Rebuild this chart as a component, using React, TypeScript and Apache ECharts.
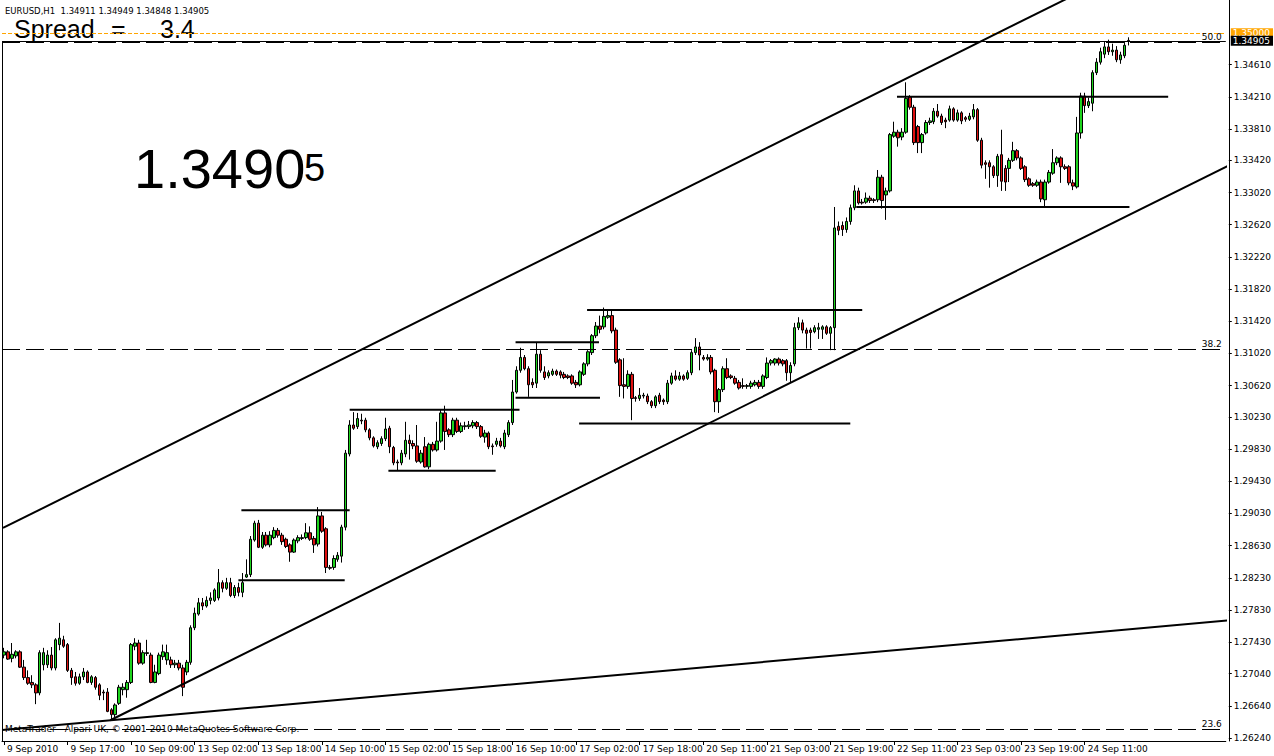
import React, { useEffect, useRef } from "react";
import * as echarts from "echarts";

const FONT_UI = "'DejaVu Sans', sans-serif";
const FONT_BIG = "'Liberation Sans', Arial, sans-serif";

// trading days: [label, first hour, last hour]
const days: [string, number, number][] = [
  ["9 Sep", 1, 23], ["10 Sep", 0, 22], ["13 Sep", 0, 23], ["14 Sep", 0, 23],
  ["15 Sep", 0, 23], ["16 Sep", 0, 23], ["17 Sep", 0, 22], ["20 Sep", 0, 23],
  ["21 Sep", 0, 23], ["22 Sep", 0, 23], ["23 Sep", 0, 23], ["24 Sep", 0, 22],
  ["27 Sep", 0, 23],
];

const xTickLabels = [
  "9 Sep 2010", "9 Sep 17:00", "10 Sep 09:00", "13 Sep 02:00", "13 Sep 18:00",
  "14 Sep 10:00", "15 Sep 02:00", "15 Sep 18:00", "16 Sep 10:00", "17 Sep 02:00",
  "17 Sep 18:00", "20 Sep 11:00", "21 Sep 03:00", "21 Sep 19:00", "22 Sep 11:00",
  "23 Sep 03:00", "23 Sep 19:00", "24 Sep 11:00",
];

const yTicks = [
  1.3461, 1.3421, 1.3381, 1.3342, 1.3302, 1.3262, 1.3222, 1.3182, 1.3142, 1.3102,
  1.3062, 1.3023, 1.2983, 1.2943, 1.2903, 1.2863, 1.2823, 1.2783, 1.2743, 1.2704,
  1.2664, 1.2624,
];

// [open, close, low, high]
const sep09 = [
  [1.2727,1.2731,1.2723,1.2736],[1.2731,1.2722,1.2721,1.2733],[1.2723,1.2728,1.2718,1.2742],
  [1.2726,1.2731,1.2723,1.2733],[1.2731,1.2712,1.2711,1.2733],[1.2712,1.2699,1.2696,1.2721],
  [1.2699,1.2692,1.2690,1.2708],[1.2693,1.2690,1.2686,1.2702],[1.2690,1.2680,1.2666,1.2692],
  [1.2680,1.2730,1.2677,1.2733],[1.2715,1.2730,1.2708,1.2736],[1.2715,1.2727,1.2711,1.2733],
  [1.2727,1.2711,1.2708,1.2737],[1.2711,1.2746,1.2708,1.2748],[1.2740,1.2748,1.2733,1.2767],
  [1.2746,1.2738,1.2736,1.2751],[1.2740,1.2708,1.2706,1.2742],[1.2708,1.2699,1.2690,1.2711],
  [1.2700,1.2692,1.2689,1.2706],[1.2692,1.2700,1.2690,1.2704],[1.2700,1.2706,1.2696,1.2711],
  [1.2706,1.2693,1.2692,1.2708],[1.2693,1.2700,1.2690,1.2702],
];
const sep10 = [
  [1.2699,1.2687,1.2684,1.2701],[1.2690,1.2677,1.2671,1.2692],[1.2681,1.2680,1.2671,1.2684],
  [1.2681,1.2657,1.2656,1.2686],[1.2659,1.2653,1.2646,1.2661],[1.2653,1.2665,1.2650,1.2667],
  [1.2667,1.2687,1.2665,1.2690],[1.2684,1.2687,1.2677,1.2692],[1.2684,1.2693,1.2674,1.2696],
  [1.2693,1.2740,1.2691,1.2742],[1.2738,1.2742,1.2733,1.2748],[1.2742,1.2717,1.2715,1.2746],
  [1.2717,1.2730,1.2715,1.2733],[1.2729,1.2730,1.2726,1.2746],[1.2727,1.2693,1.2692,1.2730],
  [1.2693,1.2706,1.2692,1.2715],[1.2704,1.2727,1.2702,1.2730],[1.2725,1.2731,1.2721,1.2740],
  [1.2721,1.2730,1.2715,1.2740],[1.2721,1.2715,1.2711,1.2725],[1.2715,1.2717,1.2711,1.2721],
  [1.2717,1.2711,1.2708,1.2721],[1.2711,1.2687,1.2676,1.2715],
];
const sep13 = [
  [1.2706,1.2718,1.2702,1.2721],[1.2718,1.2761,1.2715,1.2764],[1.2761,1.2779,1.2758,1.2786],
  [1.2778,1.2792,1.2776,1.2798],[1.2792,1.2788,1.2783,1.2798],[1.2788,1.2795,1.2786,1.2800],
  [1.2795,1.2798,1.2790,1.2805],[1.2795,1.2808,1.2793,1.2810],[1.2798,1.2817,1.2795,1.2834],
  [1.2817,1.2810,1.2805,1.2820],[1.2810,1.2817,1.2808,1.2823],[1.2817,1.2801,1.2799,1.2823],
  [1.2801,1.2811,1.2798,1.2814],[1.2811,1.2805,1.2800,1.2817],[1.2805,1.2817,1.2799,1.2829],
  [1.2824,1.2827,1.2823,1.2846],[1.2827,1.2871,1.2824,1.2875],[1.2870,1.2891,1.2868,1.2894],
  [1.2891,1.2861,1.2860,1.2895],[1.2861,1.2876,1.2859,1.2880],[1.2876,1.2864,1.2862,1.2880],
  [1.2864,1.2876,1.2861,1.2881],[1.2873,1.2882,1.2871,1.2886],[1.2882,1.2876,1.2873,1.2885],
];
const sep14 = [
  [1.2876,1.2868,1.2864,1.2879],[1.2871,1.2862,1.2860,1.2873],[1.2864,1.2855,1.2843,1.2866],
  [1.2855,1.2870,1.2854,1.2872],[1.2869,1.2873,1.2866,1.2876],[1.2872,1.2873,1.2870,1.2877],
  [1.2873,1.2879,1.2871,1.2891],[1.2879,1.2871,1.2869,1.2887],[1.2872,1.2864,1.2854,1.2875],
  [1.2865,1.2900,1.2862,1.2911],[1.2900,1.2881,1.2879,1.2905],[1.2884,1.2836,1.2829,1.2886],
  [1.2836,1.2835,1.2833,1.2839],[1.2836,1.2847,1.2833,1.2851],[1.2846,1.2851,1.2843,1.2855],
  [1.2850,1.2886,1.2842,1.2889],[1.2886,1.2978,1.2882,1.2982],[1.2977,1.3013,1.2974,1.3019],
  [1.3013,1.3009,1.3007,1.3029],[1.3011,1.3021,1.3008,1.3028],[1.3019,1.3018,1.3014,1.3027],
  [1.3019,1.3007,1.3004,1.3022],[1.3007,1.2997,1.2994,1.3009],[1.2997,1.2987,1.2985,1.2999],
];
const sep15 = [
  [1.2986,1.2991,1.2983,1.2994],[1.2990,1.2996,1.2987,1.2999],[1.2996,1.3008,1.2993,1.3022],
  [1.3009,1.2986,1.2978,1.3012],[1.2985,1.2966,1.2963,1.2987],[1.2967,1.2966,1.2957,1.2970],
  [1.2966,1.2978,1.2963,1.2982],[1.2977,1.2994,1.2973,1.3017],[1.2994,1.2990,1.2970,1.3001],
  [1.2990,1.2987,1.2983,1.2994],[1.2987,1.2968,1.2966,1.3013],[1.2967,1.2978,1.2965,1.2982],
  [1.2986,1.2961,1.2960,1.2998],[1.2961,1.2989,1.2958,1.2991],[1.2989,1.2982,1.2980,1.2992],
  [1.2982,1.2993,1.2980,1.3017],[1.2993,1.3028,1.2991,1.3032],[1.3028,1.3005,1.2982,1.3037],
  [1.3007,1.3001,1.2998,1.3009],[1.3001,1.3019,1.2998,1.3022],[1.3019,1.3005,1.3003,1.3022],
  [1.3005,1.3012,1.3003,1.3016],[1.3011,1.3012,1.3007,1.3017],[1.3011,1.3013,1.3008,1.3018],
];
const sep16 = [
  [1.3012,1.3016,1.3009,1.3019],[1.3016,1.3011,1.3008,1.3018],[1.3011,1.2999,1.2997,1.3013],
  [1.2998,1.3003,1.2991,1.3007],[1.3003,1.2986,1.2983,1.3005],[1.2987,1.2986,1.2976,1.2990],
  [1.2989,1.2993,1.2986,1.2997],[1.2993,1.2987,1.2985,1.2997],[1.2986,1.3003,1.2983,1.3007],
  [1.3001,1.3016,1.2998,1.3019],[1.3016,1.3054,1.3013,1.3069],[1.3054,1.3081,1.3052,1.3086],
  [1.3081,1.3097,1.3078,1.3109],[1.3097,1.3083,1.3081,1.3100],[1.3083,1.3063,1.3048,1.3086],
  [1.3066,1.3063,1.3059,1.3071],[1.3065,1.3101,1.3059,1.3115],[1.3101,1.3081,1.3078,1.3106],
  [1.3079,1.3072,1.3069,1.3086],[1.3074,1.3078,1.3071,1.3081],[1.3076,1.3080,1.3074,1.3083],
  [1.3080,1.3076,1.3074,1.3082],[1.3079,1.3075,1.3071,1.3081],[1.3076,1.3072,1.3070,1.3079],
];
const sep17 = [
  [1.3074,1.3072,1.3070,1.3076],[1.3074,1.3065,1.3063,1.3076],[1.3066,1.3063,1.3059,1.3069],
  [1.3063,1.3079,1.3061,1.3081],[1.3076,1.3089,1.3074,1.3091],[1.3089,1.3104,1.3086,1.3106],
  [1.3103,1.3124,1.3100,1.3126],[1.3124,1.3136,1.3121,1.3141],[1.3136,1.3132,1.3127,1.3149],
  [1.3135,1.3148,1.3132,1.3159],[1.3147,1.3149,1.3145,1.3156],[1.3149,1.3130,1.3127,1.3156],
  [1.3131,1.3091,1.3089,1.3134],[1.3094,1.3062,1.3048,1.3096],[1.3063,1.3061,1.3046,1.3096],
  [1.3061,1.3076,1.3058,1.3081],[1.3076,1.3046,1.3019,1.3079],[1.3047,1.3046,1.3042,1.3049],
  [1.3046,1.3050,1.3043,1.3059],[1.3049,1.3050,1.3046,1.3053],[1.3049,1.3042,1.3039,1.3052],
  [1.3042,1.3037,1.3034,1.3044],[1.3037,1.3048,1.3034,1.3050],
];
const sep20 = [
  [1.3050,1.3042,1.3039,1.3053],[1.3044,1.3042,1.3038,1.3046],[1.3042,1.3065,1.3039,1.3069],
  [1.3065,1.3074,1.3063,1.3078],[1.3074,1.3070,1.3068,1.3081],[1.3070,1.3074,1.3068,1.3079],
  [1.3074,1.3070,1.3068,1.3076],[1.3071,1.3078,1.3069,1.3081],[1.3078,1.3103,1.3075,1.3106],
  [1.3103,1.3110,1.3100,1.3121],[1.3110,1.3100,1.3081,1.3116],[1.3097,1.3095,1.3093,1.3100],
  [1.3095,1.3097,1.3093,1.3101],[1.3097,1.3079,1.3076,1.3100],[1.3081,1.3042,1.3029,1.3083],
  [1.3042,1.3057,1.3028,1.3059],[1.3057,1.3083,1.3054,1.3086],[1.3083,1.3072,1.3070,1.3096],
  [1.3074,1.3072,1.3070,1.3076],[1.3071,1.3065,1.3063,1.3074],[1.3066,1.3059,1.3057,1.3069],
  [1.3062,1.3061,1.3058,1.3071],[1.3061,1.3062,1.3058,1.3064],[1.3061,1.3065,1.3058,1.3068],
];
const sep21 = [
  [1.3063,1.3066,1.3061,1.3069],[1.3066,1.3061,1.3058,1.3069],[1.3061,1.3074,1.3058,1.3076],
  [1.3072,1.3090,1.3070,1.3097],[1.3090,1.3093,1.3087,1.3095],[1.3090,1.3095,1.3087,1.3096],
  [1.3095,1.3090,1.3087,1.3097],[1.3093,1.3089,1.3086,1.3095],[1.3093,1.3078,1.3068,1.3095],
  [1.3078,1.3087,1.3065,1.3091],[1.3089,1.3134,1.3086,1.3140],[1.3134,1.3140,1.3131,1.3147],
  [1.3140,1.3131,1.3127,1.3144],[1.3131,1.3127,1.3108,1.3134],[1.3131,1.3128,1.3108,1.3134],
  [1.3129,1.3134,1.3127,1.3137],[1.3132,1.3134,1.3120,1.3140],[1.3132,1.3135,1.3120,1.3137],
  [1.3135,1.3127,1.3125,1.3137],[1.3127,1.3134,1.3106,1.3136],[1.3134,1.3258,1.3106,1.3284],
  [1.3260,1.3255,1.3249,1.3266],[1.3261,1.3256,1.3248,1.3266],[1.3256,1.3266,1.3252,1.3271],
];
const sep22 = [
  [1.3266,1.3283,1.3262,1.3287],[1.3283,1.3304,1.3280,1.3311],[1.3304,1.3289,1.3287,1.3308],
  [1.3290,1.3289,1.3287,1.3294],[1.3290,1.3295,1.3288,1.3302],[1.3295,1.3292,1.3289,1.3298],
  [1.3293,1.3292,1.3289,1.3295],[1.3293,1.3321,1.3290,1.3330],[1.3321,1.3292,1.3282,1.3324],
  [1.3299,1.3304,1.3268,1.3308],[1.3304,1.3374,1.3302,1.3376],[1.3372,1.3377,1.3370,1.3390],
  [1.3377,1.3370,1.3359,1.3380],[1.3371,1.3377,1.3367,1.3382],[1.3377,1.3419,1.3375,1.3439],
  [1.3421,1.3408,1.3405,1.3423],[1.3408,1.3364,1.3361,1.3411],[1.3384,1.3364,1.3351,1.3386],
  [1.3364,1.3374,1.3351,1.3376],[1.3376,1.3389,1.3374,1.3392],[1.3389,1.3391,1.3386,1.3395],
  [1.3390,1.3403,1.3387,1.3407],[1.3403,1.3397,1.3395,1.3412],[1.3397,1.3389,1.3386,1.3400],
];
const sep23 = [
  [1.3392,1.3390,1.3382,1.3395],[1.3392,1.3406,1.3390,1.3410],[1.3406,1.3392,1.3390,1.3408],
  [1.3392,1.3401,1.3390,1.3405],[1.3401,1.3391,1.3387,1.3403],[1.3395,1.3393,1.3390,1.3397],
  [1.3393,1.3397,1.3391,1.3401],[1.3396,1.3405,1.3393,1.3412],[1.3405,1.3367,1.3365,1.3407],
  [1.3367,1.3336,1.3332,1.3370],[1.3339,1.3337,1.3319,1.3342],[1.3339,1.3334,1.3308,1.3342],
  [1.3334,1.3323,1.3320,1.3336],[1.3323,1.3347,1.3309,1.3350],[1.3349,1.3316,1.3304,1.3380],
  [1.3332,1.3315,1.3304,1.3336],[1.3332,1.3342,1.3315,1.3345],[1.3342,1.3354,1.3340,1.3365],
  [1.3354,1.3345,1.3342,1.3356],[1.3345,1.3332,1.3330,1.3347],[1.3334,1.3318,1.3315,1.3336],
  [1.3319,1.3311,1.3309,1.3321],[1.3313,1.3311,1.3309,1.3315],[1.3311,1.3315,1.3309,1.3318],
];
const sep24 = [
  [1.3315,1.3294,1.3290,1.3318],[1.3293,1.3315,1.3284,1.3318],[1.3315,1.3327,1.3313,1.3330],
  [1.3326,1.3339,1.3324,1.3356],[1.3339,1.3345,1.3336,1.3347],[1.3345,1.3334,1.3314,1.3347],
  [1.3334,1.3332,1.3330,1.3337],[1.3334,1.3314,1.3311,1.3336],[1.3314,1.3310,1.3305,1.3318],
  [1.3309,1.3376,1.3307,1.3396],[1.3376,1.3422,1.3369,1.3426],[1.3422,1.3410,1.3401,1.3426],
  [1.3410,1.3415,1.3407,1.3420],[1.3413,1.3451,1.3403,1.3454],[1.3451,1.3464,1.3448,1.3469],
  [1.3464,1.3477,1.3461,1.3482],[1.3474,1.3483,1.3469,1.3489],[1.3483,1.3477,1.3473,1.3492],
  [1.3477,1.3479,1.3472,1.3487],[1.3479,1.3467,1.3464,1.3484],[1.3467,1.3473,1.3462,1.3477],
  [1.3472,1.3485,1.3469,1.3489],[1.34911,1.34905,1.34848,1.34949],
];

// trend lines: [bar index, price]
const channelUpper = [[-0.25, 1.2885], [272, 1.3554]];
const channelLower = [[26.75, 1.2646], [308, 1.3335]];
const baseTrend = [[-0.5, 1.2634], [308, 1.2770]];
// horizontal segments: [price, from bar, to bar]
const hSegments = [
  [1.2907, 59.75, 87], [1.2820, 59, 85.75], [1.3032, 87, 129.75], [1.2956, 96.75, 123.75],
  [1.3116, 128.75, 149.75], [1.3047, 128.75, 150], [1.3156, 146.75, 216], [1.3015, 144.75, 213],
  [1.3421, 224.75, 293], [1.3284, 214.5, 283.25],
];
const fibLevels: [string, number][] = [["50.0", 1.3489], ["38.2", 1.3107], ["23.6", 1.2635]];
const bidPrice = 1.34905;
const alertPrice = 1.35;

const Y_MIN = 1.26202;
const Y_MAX = 1.35413;

export default function App() {
  const ref = useRef<HTMLDivElement>(null);
  useEffect(() => {
    if (!ref.current) return;
    const chart = echarts.init(ref.current, undefined, { renderer: "svg" });
    const categories: string[] = [];
    days.forEach(([d, h0, h1]) => {
      for (let h = h0; h <= h1; h++) categories.push(`${d} ${String(h).padStart(2, "0")}:00`);
    });
    const ohlc = [...sep09, ...sep10, ...sep13, ...sep14, ...sep15, ...sep16, ...sep17,
      ...sep20, ...sep21, ...sep22, ...sep23, ...sep24];
    const showTick = (i: number) => i % 16 === 0 && i / 16 < xTickLabels.length;
    const trend = (data: number[][], width = 2) => ({
      type: "line", xAxisIndex: 1, yAxisIndex: 0, data, symbol: "none", showSymbol: false,
      clip: true, silent: true, z: 5, lineStyle: { color: "#000", width }, animation: false,
    });
    const fibMarks = fibLevels.map(([name, p]) => ({
      yAxis: p,
      lineStyle: { color: "#000", type: [18, 6], width: 1 },
      label: { show: true, position: "insideEndTop", formatter: name, color: "#000",
        fontSize: 9, fontFamily: FONT_UI, distance: [4, 1] },
    }));
    const option: any = {
      animation: false,
      backgroundColor: "#fff",
      grid: { left: 2, right: 40, top: 0, bottom: 15, containLabel: false },
      xAxis: [
        {
          type: "category", data: categories, boundaryGap: true,
          axisLine: { show: true, lineStyle: { color: "#000", width: 1 } },
          axisTick: { show: true, alignWithLabel: true, interval: showTick, length: 4, lineStyle: { color: "#000" } },
          axisLabel: {
            interval: showTick, align: "left", margin: 3, padding: [0, 0, 0, 3],
            fontSize: 9, fontFamily: FONT_UI, color: "#000",
            formatter: (_v: string, i: number) => xTickLabels[i / 16] ?? "",
          },
          splitLine: { show: false },
        },
        { type: "value", min: -0.5, max: 307.5, show: false, gridIndex: 0 },
      ],
      yAxis: {
        type: "value", position: "right", offset: 3, min: Y_MIN, max: Y_MAX, scale: false,
        axisLine: { show: true, onZero: false, lineStyle: { color: "#000", width: 1 } },
        axisTick: { show: true, customValues: yTicks, length: 3, lineStyle: { color: "#000" } },
        axisLabel: {
          customValues: yTicks, formatter: (v: number) => v.toFixed(5), margin: 5,
          fontSize: 9, fontFamily: FONT_UI, color: "#000",
        },
        splitLine: { show: false },
      },
      series: [
        {
          type: "candlestick", data: ohlc, barWidth: 3, z: 3,
          itemStyle: {
            color: "#1ed41e", color0: "#dd1010", borderColor: "#000", borderColor0: "#000",
            borderColorDoji: "#000", borderWidth: 1,
          },
          markLine: {
            symbol: "none", silent: true, animation: false, precision: 5,
            data: [
              ...fibMarks,
              {
                yAxis: alertPrice,
                lineStyle: { color: "#FFA500", type: [4, 2], width: 1, opacity: 1 },
                label: { show: true, position: "end", formatter: "1.35000", color: "#fff",
                  backgroundColor: "#FFA500", padding: [0, 3, 0, 2], lineHeight: 10, fontSize: 9, fontFamily: FONT_UI, distance: 5 },
              },
              {
                yAxis: bidPrice,
                lineStyle: { color: "#000", type: "solid", width: 1 },
                label: { show: true, position: "end", formatter: "1.34905", color: "#fff",
                  backgroundColor: "#000", padding: [0, 3, 0, 2], lineHeight: 10, fontSize: 9, fontFamily: FONT_UI, distance: 5 },
              },
            ],
          },
        },
        trend(channelUpper),
        trend(channelLower),
        trend(baseTrend),
        ...hSegments.map(([p, a, b]) => trend([[a, p], [b, p]])),
      ],
      graphic: [
        { type: "line", silent: true, shape: { x1: 2.5, y1: 41, x2: 2.5, y2: 741 }, style: { stroke: "#000", lineWidth: 1 } },
        { type: "text", silent: true, x: 5, y: 10.5, style: { text: "EURUSD,H1  1.34911 1.34949 1.34848 1.34905", fontSize: 8.5, fontFamily: FONT_UI, fill: "#000", verticalAlign: "middle" } },
        { type: "text", silent: true, x: 14, y: 28.5, style: { text: "Spread", fontSize: 25, fontFamily: FONT_BIG, fill: "#000", verticalAlign: "middle" } },
        { type: "text", silent: true, x: 111, y: 28.5, style: { text: "=", fontSize: 25, fontFamily: FONT_BIG, fill: "#000", verticalAlign: "middle" } },
        { type: "text", silent: true, x: 160, y: 28.5, style: { text: "3.4", fontSize: 25, fontFamily: FONT_BIG, fill: "#000", verticalAlign: "middle" } },
        { type: "text", silent: true, x: 134, y: 168.5, style: { text: "1.3490", fontSize: 56, fontFamily: FONT_BIG, fill: "#000", verticalAlign: "middle" } },
        { type: "text", silent: true, x: 304, y: 168, style: { text: "5", fontSize: 38, fontFamily: FONT_BIG, fill: "#000", verticalAlign: "middle" } },
        { type: "text", silent: true, x: 5, y: 729, style: { text: "MetaTrader - Alpari UK, © 2001-2010 MetaQuotes Software Corp.", fontSize: 9, fontFamily: FONT_UI, fill: "#000", verticalAlign: "middle" } },
      ],
    };
    chart.setOption(option);
    return () => chart.dispose();
  }, []);
  return (
    <div
      ref={ref}
      style={{ position: "fixed", left: 0, top: 0, width: 1274, height: 756, background: "#fff" }}
    />
  );
}
